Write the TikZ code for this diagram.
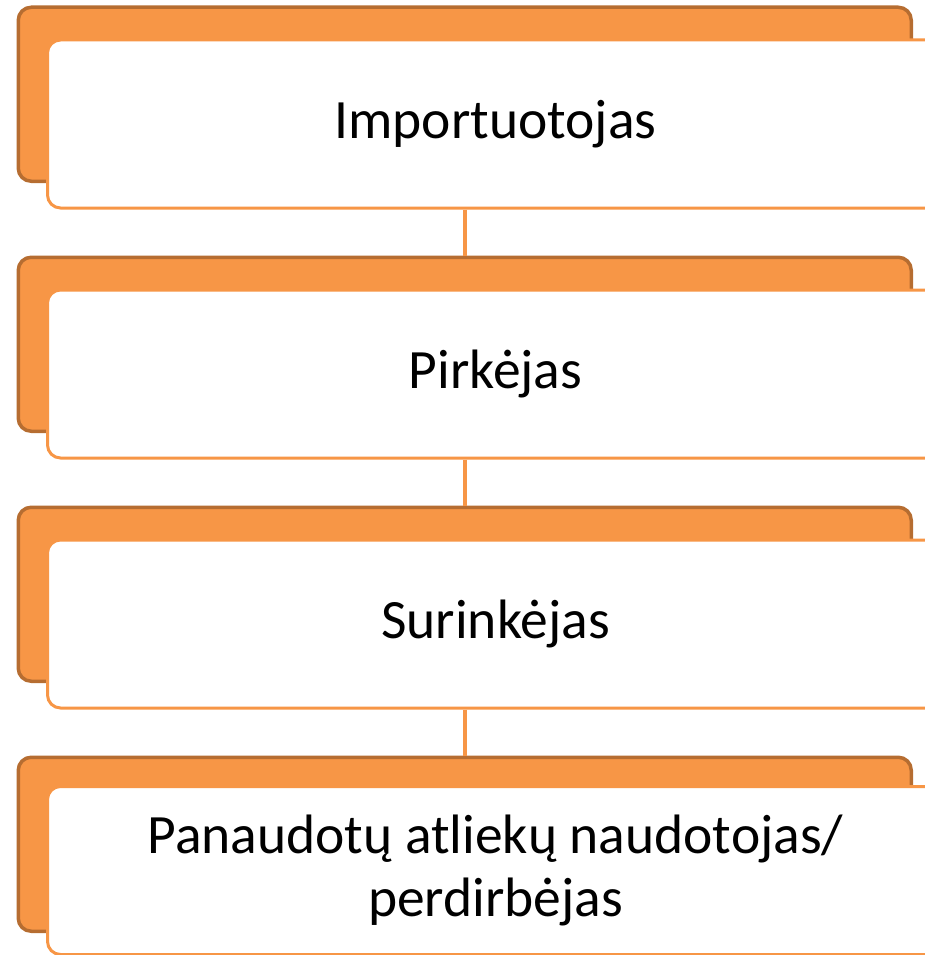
\documentclass[tikz,border=0pt]{standalone}
\usepackage{fontspec}
\setmainfont{Carlito}
\definecolor{accent}{HTML}{F79646}
\definecolor{accentdark}{HTML}{B66D31}
\begin{document}
\begin{tikzpicture}[x=1pt,y=-1pt,
  backbox/.style={draw=accentdark, fill=accent, line width=3.5pt, rounded corners=13pt,
    minimum width=893pt, minimum height=174pt, inner sep=0pt, anchor=north west},
  frontbox/.style={draw=accent, fill=white, line width=3pt, rounded corners=13pt,
    minimum width=896pt, minimum height=168pt, inner sep=0pt, anchor=north west,
    font=\fontsize{55.5}{63}\selectfont, align=center, text=black},
  link/.style={draw=accent, line width=4.5pt}]
\useasboundingbox (0,0) rectangle (924,955);
% backs
\node[backbox] (b1) at (16.5,5.5) {};
\node[backbox] (b2) at (16.5,255.5) {};
\node[backbox] (b3) at (16.5,505.5) {};
\node[backbox] (b4) at (16.5,755.5) {};
% fronts
\node[frontbox] (f1) at (46,38.5) {Importuotojas};
\node[frontbox] (f2) at (46,288.5) {Pirkėjas};
\node[frontbox] (f3) at (46,538.5) {Surinkėjas};
\node[frontbox] (f4) at (46,785) {Panaudotų atliekų naudotojas/\\perdirbėjas};
% connectors
\draw[link] (b1.center |- f1.south) -- (b2.north);
\draw[link] (b2.center |- f2.south) -- (b3.north);
\draw[link] (b3.center |- f3.south) -- (b4.north);
\end{tikzpicture}
\end{document}
